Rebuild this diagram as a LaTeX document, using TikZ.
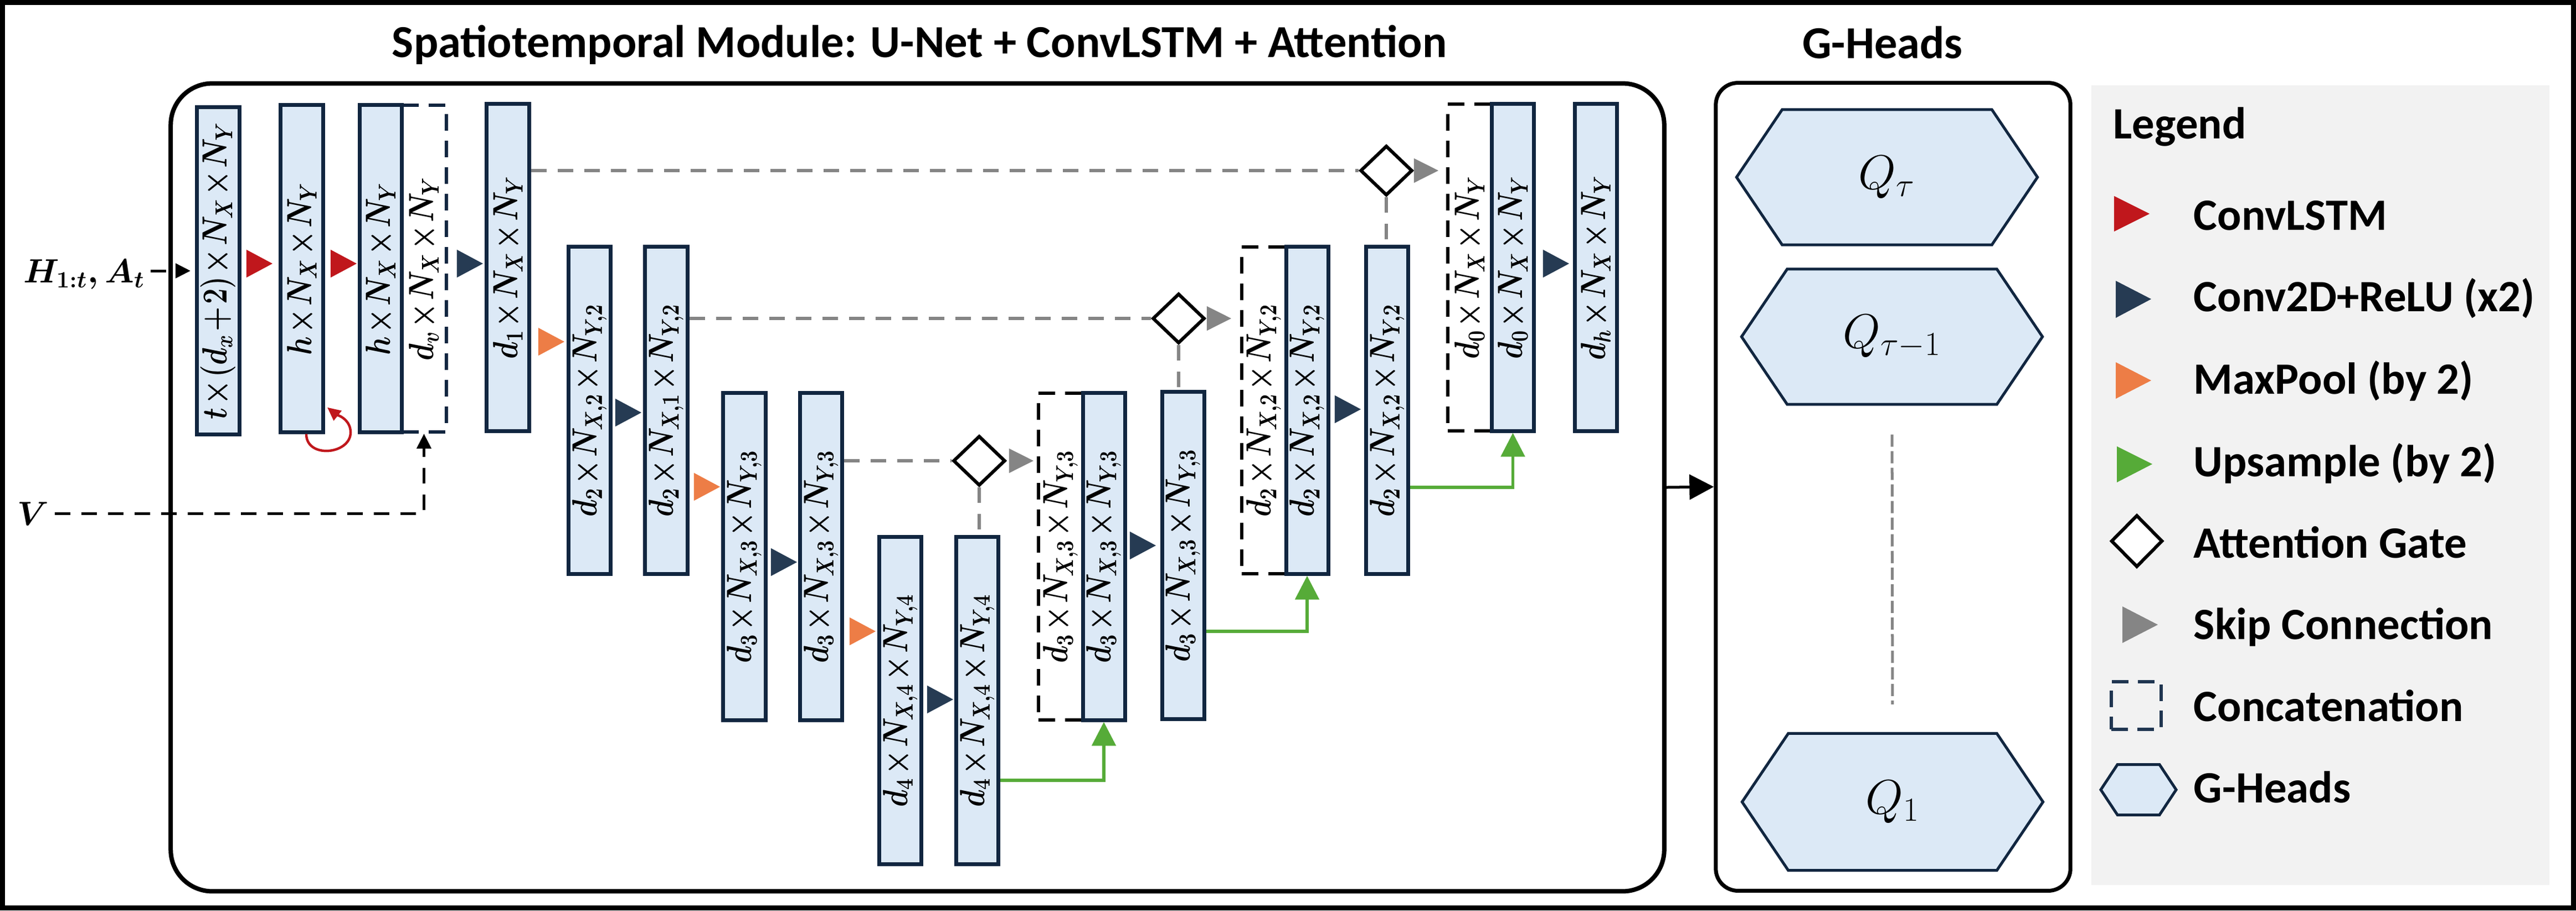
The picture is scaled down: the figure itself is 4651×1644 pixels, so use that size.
\documentclass[tikz,border=0pt]{standalone}
\usepackage[no-math]{fontspec}
\setmainfont{Carlito}
\usetikzlibrary{arrows.meta,shapes.geometric,shapes.symbols}
\definecolor{boxfill}{HTML}{DCE9F6}
\definecolor{boxline}{HTML}{112640}
\definecolor{cnavy}{HTML}{263B53}
\definecolor{cred}{HTML}{C0171C}
\definecolor{corange}{HTML}{ED7D46}
\definecolor{cgreen}{HTML}{56AB38}
\definecolor{cgray}{HTML}{858585}
\definecolor{legbg}{HTML}{F2F2F2}
\definecolor{legnavy}{HTML}{1F3550}
\newcommand\labfont{\fontsize{14}{14}\selectfont\medmuskip=1.5mu\relax}
\newcommand\titfont{\fontsize{23.5}{27}\selectfont\bfseries}
\newcommand\legfont{\fontsize{23}{27}\selectfont\bfseries}
\newcommand\inpfont{\fontsize{18}{18}\selectfont\boldmath}
\newcommand\qfont{\fontsize{25}{25}\selectfont}
\newcommand\mkblk[5]{\node[#1] (#2) at (#3,#4) {}; \node[lab] (#2l) at (#2.center) {\scalebox{1}[1.25]{\boldmath$#5$}};}
\begin{document}
\begin{tikzpicture}[x=0.01cm,y=-0.01cm,
  blk/.style={draw=boxline, fill=boxfill, line width=0.07cm, minimum width=0.76cm, minimum height=5.9cm, inner sep=0pt},
  cat/.style={draw=black, line width=0.06cm, dash pattern=on 0.30cm off 0.18cm, minimum width=0.80cm, minimum height=5.9cm, inner sep=0pt},
  catv/.style={cat, draw=boxline},
  lab/.style={rotate=90, font=\labfont, inner sep=0pt},
  tri/.style={line width=0.3pt, -{Triangle[length=0.47cm,width=0.50cm]}},
  skip/.style={draw=cgray, line width=0.06cm, dash pattern=on 0.28cm off 0.2cm},
  skiparr/.style={draw=cgray, line width=0.3pt, -{Triangle[length=0.44cm,width=0.44cm]}},
  up/.style={draw=cgreen, line width=0.055cm, -{Triangle[length=0.43cm,width=0.43cm]}},
  gate/.style={diamond, draw=black, fill=white, line width=0.06cm, minimum width=0.94cm, minimum height=0.90cm, inner sep=0pt},
  inarrow/.style={draw=black, line width=0.05cm, dash pattern=on 0.28cm off 0.2cm, -{Triangle[length=0.27cm,width=0.26cm]}},
  hex/.style={signal, signal to=west and east, signal pointer angle=112, draw=boxline, fill=boxfill, line width=0.05cm, minimum width=5.43cm, minimum height=2.44cm, inner sep=0pt, font=\qfont},
  titletxt/.style={font=\titfont, inner sep=0pt},
  legtxt/.style={font=\legfont, inner sep=0pt, anchor=base west}
]
\useasboundingbox (0,0) rectangle (4651,1644);
\fill[legbg] (3776,154) rectangle (4603,1598);
\draw[line width=0.09cm] (4.5,4.5) rectangle (4646.5,1639.5);

% titles
\node[titletxt, anchor=base] (t1) at (1660,103) {Spatiotemporal Module: U-Net + ConvLSTM + Attention};
\node[titletxt, anchor=base] (t2) at (3399,105) {G-Heads};

% containers
\node[draw=black, line width=0.08cm, rounded corners=0.75cm, minimum width=26.95cm, minimum height=14.58cm, inner sep=0pt] (mainbox) at (1656.5,880) {};
\node[draw=black, line width=0.07cm, rounded corners=0.4cm, minimum width=6.40cm, minimum height=14.58cm, inner sep=0pt] (gheads) at (3418,879) {};

% concatenation boxes
\mkblk{catv}{cv}{765.5}{485}{d_v\times N_X\times N_Y}
\mkblk{cat}{c3}{1915}{1005}{d_3\times N_{X,3}\times N_{Y,3}}
\mkblk{cat}{c2}{2282}{741}{d_2\times N_{X,2}\times N_{Y,2}}
\mkblk{cat}{c0}{2653.5}{483}{d_0\times N_X\times N_Y}

% blocks
\mkblk{blk}{b1}{394}{489}{t\times(d_x+2)\times N_X\times N_Y}
\mkblk{blk}{b2}{545}{485}{h\times N_X\times N_Y}
\mkblk{blk}{b3}{687.5}{485}{h\times N_X\times N_Y}
\mkblk{blk}{d1}{917}{483}{d_1\times N_X\times N_Y}
\mkblk{blk}{d2a}{1064.5}{741}{d_2\times N_{X,2}\times N_{Y,2}}
\mkblk{blk}{d2b}{1203}{741}{d_2\times N_{X,1}\times N_{Y,2}}
\mkblk{blk}{d3a}{1344}{1005}{d_3\times N_{X,3}\times N_{Y,3}}
\mkblk{blk}{d3b}{1482.5}{1005}{d_3\times N_{X,3}\times N_{Y,3}}
\mkblk{blk}{d4a}{1625.5}{1265}{d_4\times N_{X,4}\times N_{Y,4}}
\mkblk{blk}{d4b}{1764.5}{1265}{d_4\times N_{X,4}\times N_{Y,4}}
\mkblk{blk}{u3}{1993}{1005}{d_3\times N_{X,3}\times N_{Y,3}}
\mkblk{blk}{d3c}{2136}{1003}{d_3\times N_{X,3}\times N_{Y,3}}
\mkblk{blk}{u2}{2360}{741}{d_2\times N_{X,2}\times N_{Y,2}}
\mkblk{blk}{d2c}{2504.5}{741}{d_2\times N_{X,2}\times N_{Y,2}}
\mkblk{blk}{u0}{2731.5}{483}{d_0\times N_X\times N_Y}
\mkblk{blk}{dh}{2881}{483}{d_h\times N_X\times N_Y}

% attention gates
\node[gate] (gtop) at (2503,308) {};
\node[gate] (gmid) at (2128,575) {};
\node[gate] (glow) at (1768,832) {};

% inputs
\node[font=\inpfont, inner sep=0pt, anchor=base east] (hin) at (262,510) {$H_{1:t}, A_t$};
\node[font=\inpfont, inner sep=0pt, anchor=base east] (vin) at (89,948) {$V$};
\draw[inarrow, shorten <=0.1cm, shorten >=0.085cm] (hin.east |- b1.west) -- (b1.west);
\draw[inarrow, shorten <=0.1cm] (vin.east) -| (cv.south);

% ConvLSTM self loop
\draw[cred, line width=0.045cm, -{Triangle[length=0.24cm,width=0.22cm]}] ([xshift=0.08cm]b2.south) .. controls +(0,45) and +(0,40) .. ++(80,-3) .. controls +(0,-25) and +(15,12) .. ++(-42,-45);

% operation triangles
\draw[tri, cred, shorten <=0.09cm, shorten >=0.115cm] (b1.east |- 0,476) -- (b2.west |- 0,476);
\draw[tri, cred, shorten <=0.10cm, shorten >=0.02cm] (b2.east |- 0,476) -- (b3.west |- 0,476);
\draw[tri, cnavy, shorten <=0.16cm, shorten >=0.035cm] (cv.east |- 0,476) -- (d1.west |- 0,476);
\draw[tri, corange, shorten <=0.13cm, shorten >=0.04cm] (d1.east |- 0,617) -- (d2a.west |- 0,617);
\draw[tri, cnavy, shorten <=0.045cm, shorten >=0.035cm] (d2a.east |- 0,745) -- (d2b.west |- 0,745);
\draw[tri, corange, shorten <=0.08cm, shorten >=0.025cm] (d2b.east |- 0,879) -- (d3a.west |- 0,879);
\draw[tri, cnavy, shorten <=0.06cm, shorten >=0.02cm] (d3a.east |- 0,1015) -- (d3b.west |- 0,1015);
\draw[tri, corange, shorten <=0.095cm, shorten >=0.03cm] (d3b.east |- 0,1140) -- (d4a.west |- 0,1140);
\draw[tri, cnavy, shorten <=0.065cm, shorten >=0.02cm] (d4a.east |- 0,1263) -- (d4b.west |- 0,1263);
\draw[tri, cnavy, shorten <=0.05cm, shorten >=0.075cm] (u3.east |- 0,985) -- (d3c.west |- 0,985);
\draw[tri, cnavy, shorten <=0.08cm, shorten >=0.06cm] (u2.east |- 0,739) -- (d2c.west |- 0,739);
\draw[tri, cnavy, shorten <=0.125cm, shorten >=0.065cm] (u0.east |- 0,476) -- (dh.west |- 0,476);

% skip connections
\draw[skip] (d1.east |- gtop.west) -- (gtop.west);
\draw[skip] (d2b.east |- gmid.west) -- (gmid.west);
\draw[skip] (d3b.east |- glow.west) -- (glow.west);
\draw[skip] (gtop.south) -- (gtop.south |- d2c.north);
\draw[skip] (gmid.south) -- (gmid.south |- d3c.north);
\draw[skip] (glow.south) -- (glow.south |- d4b.north);
\draw[skiparr, shorten <=0.01cm, shorten >=0.135cm] (gtop.east) -- (gtop.east -| c0.west);
\draw[skiparr, shorten <=0.01cm, shorten >=0.16cm] (gmid.east) -- (gmid.east -| c2.west);
\draw[skiparr, shorten <=0.04cm, shorten >=0.06cm] (glow.east) -- (glow.east -| c3.west);

% upsampling
\draw[up] (d4b.east |- 0,1409) -| (u3.south);
\draw[up] (d3c.east |- 0,1140) -| (u2.south);
\draw[up] (d2c.east |- 0,880) -| (u0.south);

% to G-heads
\draw[line width=0.05cm, -{Triangle[length=0.44cm,width=0.45cm]}] (mainbox.east) -- (gheads.west);

% G-heads
\node[hex] (qt) at (3407,320) {$Q_\tau$};
\node[hex] (qt1) at (3416,608) {$Q_{\tau-1}$};
\node[hex, minimum height=2.47cm] (q1) at (3417,1448) {$Q_1$};
\draw[draw=cgray, line width=0.05cm, dash pattern=on 0.22cm off 0.08cm, shorten <=0.52cm, shorten >=0.5cm] (qt1.south) -- (q1.north);

% legend
\node[legtxt] (lgt) at (3815,250) {Legend};
\fill[cred] (3817,354) -- (3881,386) -- (3817,418) -- cycle;
\fill[cnavy] (3820,507) -- (3884,540) -- (3820,574) -- cycle;
\fill[corange] (3820,654) -- (3884,687) -- (3820,720) -- cycle;
\fill[cgreen] (3822,806) -- (3886,838) -- (3822,871) -- cycle;
\node[gate, minimum width=0.93cm, minimum height=0.94cm] (lgg) at (3858,977) {};
\fill[cgray] (3832,1095) -- (3896,1128) -- (3832,1161) -- cycle;
\node[draw=legnavy, line width=0.055cm, dash pattern=on 0.3cm off 0.17cm, minimum width=0.9cm, minimum height=0.86cm, inner sep=0pt] (lgc) at (3857,1274) {};
\node[hex, signal pointer angle=113, minimum width=1.36cm, minimum height=0.91cm] (lgh) at (3861,1426) {};
\node[legtxt] (l1) at (3960,415) {ConvLSTM};
\node[legtxt] (l2) at (3960,562) {Conv2D+ReLU (x2)};
\node[legtxt] (l3) at (3960,711) {MaxPool (by 2)};
\node[legtxt] (l4) at (3960,860) {Upsample (by 2)};
\node[legtxt] (l5) at (3960,1007) {Attention Gate};
\node[legtxt] (l6) at (3960,1154) {Skip Connection};
\node[legtxt] (l7) at (3960,1302) {Concatenation};
\node[legtxt] (l8) at (3960,1449) {G-Heads};
\end{tikzpicture}
\end{document}
